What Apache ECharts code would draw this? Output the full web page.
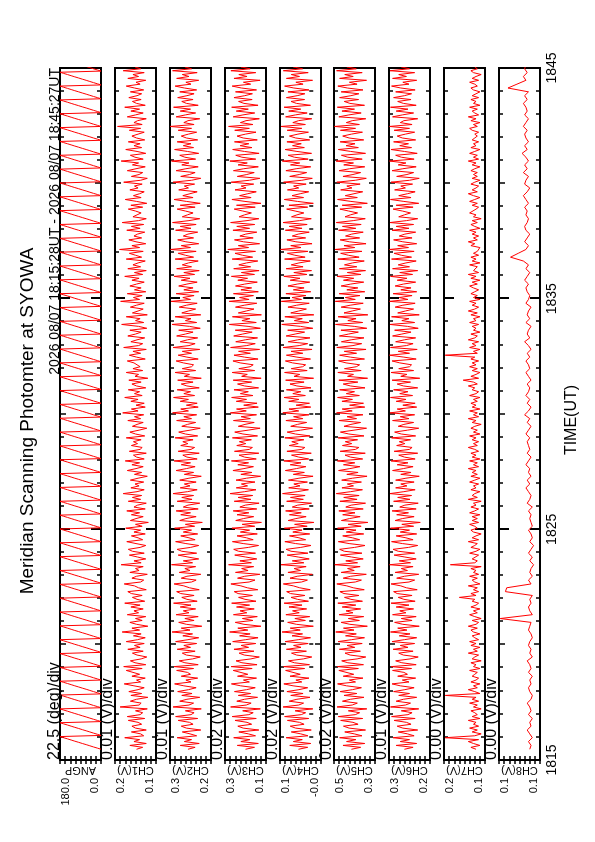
<!DOCTYPE html>
<html><head><meta charset="utf-8">
<script src="https://cdn.jsdelivr.net/npm/echarts@6/dist/echarts.min.js"></script>
<style>
html,body{margin:0;padding:0;width:595px;height:842px;overflow:hidden;background:#fff;}
#chart{position:absolute;left:0;top:0;width:842px;height:595px;transform-origin:0 0;transform:translate(0px,842px) rotate(-90deg);}
</style></head><body><div id="chart"></div>
<script>
const titleText = 'Meridian Scanning Photomter at SYOWA';
const headerText = '2026 08/07 18:15:28UT - 2026 08/07 18:45:27UT';
const panelNames = ['ANGP','CH1(V)','CH2(V)','CH3(V)','CH4(V)','CH5(V)','CH6(V)','CH7(V)','CH8(V)'];
const divLabels = ['22.5 (deg)/div','0.01 (V)/div','0.01 (V)/div','0.02 (V)/div','0.02 (V)/div','0.02 (V)/div','0.01 (V)/div','0.00 (V)/div','0.00 (V)/div'];
const yMin = [0, 0.12, 0.21, 0.13, -0.03, 0.32, 0.21, 0.13, 0.11];
const yMax = [180, 0.20, 0.29, 0.29, 0.13, 0.48, 0.29, 0.162, 0.142];
const timeTickSec = [0, 600, 1200, 1800];
const timeLabels = ['1815', '1825', '1835', '1845'];
const timeAxisName = 'TIME(UT)';
const sampleStartSec = 28;   // 18:15:28
const fastStepSec = 5;       // CH1..CH7
const ch8StepSec = 10;
const angStepSec = 3;

// scan angle (deg), 3 s samples
const angp = [
0,16,33,49,65,82,98,115,131,147,164,180,0,16,33,49,65,82,98,115,131,147,164,180,0,16,33,49,65,82,98,115,131,147,164,180,0,16,33,49,65,82,98,115,131,147,164,180,0,16,33,49,65,82,98,115,131,147,164,180,
0,16,33,49,65,82,98,115,131,147,164,180,0,16,33,49,65,82,98,115,131,147,164,180,0,16,33,49,65,82,98,115,131,147,164,180,0,16,33,49,65,82,98,115,131,147,164,180,0,16,33,49,65,82,98,115,131,147,164,180,
0,16,33,49,65,82,98,115,131,147,164,180,0,16,33,49,65,82,98,115,131,147,164,180,0,16,33,49,65,82,98,115,131,147,164,180,0,16,33,49,65,82,98,115,131,147,164,180,0,16,33,49,65,82,98,115,131,147,164,180,
0,16,33,49,65,82,98,115,131,147,164,180,0,16,33,49,65,82,98,115,131,147,164,180,0,16,33,49,65,82,98,115,131,147,164,180,0,16,33,49,65,82,98,115,131,147,164,180,0,16,33,49,65,82,98,115,131,147,164,180,
0,16,33,49,65,82,98,115,131,147,164,180,0,16,33,49,65,82,98,115,131,147,164,180,0,16,33,49,65,82,98,115,131,147,164,180,0,16,33,49,65,82,98,115,131,147,164,180,0,16,33,49,65,82,98,115,131,147,164,180,
0,16,33,49,65,82,98,115,131,147,164,180,0,16,33,49,65,82,98,115,131,147,164,180,0,16,33,49,65,82,98,115,131,147,164,180,0,16,33,49,65,82,98,115,131,147,164,180,0,16,33,49,65,82,98,115,131,147,164,180,
0,16,33,49,65,82,98,115,131,147,164,180,0,16,33,49,65,82,98,115,131,147,164,180,0,16,33,49,65,82,98,115,131,147,164,180,0,16,33,49,65,82,98,115,131,147,164,180,0,16,33,49,65,82,98,115,131,147,164,180,
0,16,33,49,65,82,98,115,131,147,164,180,0,16,33,49,65,82,98,115,131,147,164,180,0,16,33,49,65,82,98,115,131,147,164,180,0,16,33,49,65,82,98,115,131,147,164,180,0,16,33,49,65,82,98,115,131,147,164,180,
0,16,33,49,65,82,98,115,131,147,164,180,0,16,33,49,65,82,98,115,131,147,164,180,0,16,33,49,65,82,98,115,131,147,164,180,0,16,33,49,65,82,98,115,131,147,164,180,0,16,33,49,65,82,98,115,131,147,164,180,
0,16,33,49,65,82,98,115,131,147,164,180,0,16,33,49,65,82,98,115,131,147,164,180,0,16,33,49,65,82,98,115,131,147,164,180,0,16,33,49,65,82,98,115,131,147,164,180,0,16,33,49,65,82,98,115,131,147,164,180
];

// channel outputs in mV (CH1..CH7: 5 s samples, CH8: 10 s samples)
const ch1_mV = [
158,146,171,139,163,152,181,144,150,168,139,160,167,148,155,174,142,176,151,146,
160,137,190,153,149,170,158,136,169,148,173,155,143,163,182,150,158,141,167,152,
155,178,147,183,140,161,170,149,138,157,166,145,175,151,162,143,178,156,141,164,
149,186,152,167,136,158,171,147,160,140,176,154,163,145,169,151,181,142,157,166,
147,168,175,139,154,162,182,150,144,167,158,137,171,153,160,145,188,149,163,140,
156,172,143,166,174,151,140,159,177,146,155,168,141,163,150,179,147,160,135,170,
159,145,168,152,177,141,163,156,139,174,150,166,148,184,157,143,169,153,161,144,
170,155,137,162,148,176,159,145,167,152,180,143,158,164,139,172,151,147,168,156,
164,149,178,142,160,171,153,138,166,157,145,175,150,162,144,185,155,168,141,159,
143,169,155,181,147,162,152,174,140,158,167,149,173,136,161,154,178,146,165,151,
148,163,176,141,158,172,150,165,139,183,154,146,169,157,142,175,160,149,171,138,
154,187,144,160,151,178,137,166,155,145,170,158,143,189,152,164,147,176,140,162,
149,171,158,143,167,153,181,146,162,139,175,150,165,155,141,178,148,160,172,145,
191,152,167,140,159,173,148,163,156,142,177,151,168,144,186,154,139,165,157,149,
160,174,146,169,138,158,180,149,164,152,143,171,155,162,147,183,150,137,168,153,
146,176,159,141,166,154,188,145,161,170,140,157,179,148,163,151,174,142,158,167,
155,143,172,150,195,147,163,156,139,176,160,145,169,152,181,141,158,166,149,173,
157,148,170,144,162,178,151,159,140,175,154,165,143,184,150,161,146,172,153,160
];
const ch2_mV = [
255,241,270,233,262,248,276,238,251,266,230,258,268,245,252,274,236,279,249,243,
260,229,284,253,244,271,257,232,267,247,275,254,239,263,281,249,259,236,268,250,
256,277,244,282,235,261,272,246,231,258,266,241,276,250,263,238,279,255,234,265,
246,286,251,268,228,258,273,243,261,235,278,253,264,240,270,249,283,237,257,267,
243,269,277,233,252,263,282,248,239,268,257,230,272,251,261,240,287,246,264,234,
255,274,238,267,276,250,234,259,279,241,253,269,236,264,248,281,242,260,227,271,
259,239,269,250,278,235,264,255,232,276,247,267,244,284,256,237,270,251,262,239,
271,253,229,262,244,278,258,241,268,250,282,237,257,265,233,274,249,242,269,255,
265,245,280,236,260,273,251,231,267,256,240,277,248,263,238,285,254,269,235,258,
237,270,254,283,242,263,250,276,233,257,268,245,275,229,262,252,280,240,266,248,
244,264,278,235,257,274,248,266,232,284,253,241,270,256,236,277,260,245,273,231,
252,286,238,260,249,280,230,267,254,240,272,258,237,288,250,265,243,278,234,263,
245,273,257,237,268,251,282,242,263,233,277,248,266,254,235,280,244,260,274,239,
289,250,268,234,259,275,244,264,255,236,279,249,270,239,285,253,232,266,256,245,
260,276,241,270,231,258,282,245,265,251,237,273,254,262,242,284,248,230,269,252,
241,278,259,235,267,253,287,240,261,271,234,256,281,244,264,249,276,236,258,268,
254,238,274,248,290,243,263,255,232,278,260,240,270,250,283,235,258,267,245,275,
257,243,271,238,262,280,249,259,234,277,253,266,237,285,248,261,241,274,251,260
];
const ch3_mV = [
210,175,242,160,228,193,256,171,199,236,158,219,240,186,204,251,168,262,197,180,
221,152,268,207,188,244,214,163,238,190,253,206,172,229,265,195,218,167,241,201,
208,258,184,266,165,224,247,189,156,215,235,177,255,198,227,170,260,209,161,233,
192,272,201,240,150,216,250,181,222,164,257,205,231,176,245,194,264,169,212,237,
183,239,254,162,203,228,267,196,173,241,213,154,249,200,225,178,276,187,232,166,
209,252,171,237,256,199,159,219,261,180,206,243,164,230,194,263,174,223,148,248,
218,178,243,197,258,166,232,211,157,254,189,239,182,270,213,169,246,202,226,173,
247,206,151,228,185,259,216,179,240,198,265,168,214,235,158,253,195,183,244,209,
234,187,261,163,220,252,200,153,238,212,176,257,191,227,167,269,207,245,160,217,
165,246,206,264,181,230,199,255,159,214,241,186,258,149,225,203,262,174,236,192,
180,231,259,161,214,255,191,237,155,268,205,172,248,211,163,256,221,184,250,152,
200,273,168,224,193,261,148,238,207,177,249,215,166,274,196,233,179,257,160,228,
186,249,213,164,240,202,265,175,226,157,256,190,236,206,162,262,182,222,251,171,
279,198,238,155,218,253,180,232,209,166,259,194,244,174,268,204,158,235,214,187,
221,254,172,245,150,212,263,188,233,201,168,251,208,227,178,266,195,154,242,205,
176,257,217,160,239,203,271,170,224,248,157,214,260,185,231,197,253,164,219,243,
210,169,252,195,276,181,230,208,156,258,220,174,246,199,264,161,216,237,184,255,
213,183,249,167,226,262,190,218,153,255,204,236,170,267,192,228,178,250,199,221
];
const ch4_mV = [
58,22,92,10,78,43,106,21,49,86,8,69,90,36,54,101,18,112,47,30,
71,2,118,57,38,94,64,13,88,40,103,56,22,79,115,45,68,17,91,51,
58,108,34,116,15,74,97,39,6,65,85,27,105,48,77,20,110,59,11,83,
42,122,51,90,0,66,100,31,72,14,107,55,81,26,95,44,114,19,62,87,
33,89,104,12,53,78,117,46,23,91,63,4,99,50,75,28,126,37,82,16,
59,102,21,87,106,49,9,69,111,30,56,93,14,80,44,113,24,73,-2,98,
68,28,93,47,108,16,82,61,7,104,39,89,32,120,63,19,96,52,76,23,
97,56,1,78,35,109,66,29,90,48,115,18,57,85,8,103,45,33,94,59,
84,37,111,13,70,102,50,3,88,62,26,107,41,77,17,119,57,95,10,67,
15,96,56,114,31,80,49,105,9,64,91,36,108,-1,75,53,112,24,86,42,
30,81,109,11,64,105,41,87,5,118,55,22,98,61,13,106,71,34,100,2,
50,123,18,74,43,111,-2,88,57,27,99,65,16,125,46,83,29,107,10,78,
36,99,63,14,90,52,115,25,76,7,106,40,86,56,12,112,32,72,101,21,
128,48,88,5,68,103,30,82,59,16,109,44,94,24,118,54,8,85,64,37,
71,104,22,95,0,62,113,38,83,51,18,101,57,77,28,116,45,4,92,55,
26,107,67,10,89,53,121,20,74,98,7,64,110,35,81,47,103,14,69,93,
60,19,102,45,126,31,80,58,6,108,70,24,96,49,114,11,66,87,34,105,
63,33,99,17,76,112,40,68,3,105,54,86,20,117,42,78,28,100,49,71
];
const ch5_mV = [
412,376,445,360,431,395,458,371,401,438,357,421,443,386,406,454,368,463,397,380,
424,352,468,409,389,447,416,363,441,391,456,408,373,431,466,396,420,367,444,403,
410,461,385,467,365,426,450,390,356,417,437,377,459,399,429,370,464,411,361,435,
393,473,402,443,350,418,452,381,424,364,460,406,433,376,448,395,465,369,414,439,
383,441,457,362,405,430,469,397,373,444,415,354,452,401,427,378,477,388,434,366,
411,455,371,440,458,400,359,421,463,380,408,446,364,432,394,466,374,425,348,451,
420,378,446,398,461,366,434,413,357,457,390,442,382,471,415,369,449,404,428,373,
450,408,351,430,386,462,418,379,443,399,467,368,416,437,358,456,396,383,447,411,
436,388,464,363,422,455,402,353,441,414,376,460,392,429,367,470,409,448,360,419,
365,449,408,466,381,432,400,458,359,416,444,387,461,349,427,404,465,374,439,393,
380,433,462,361,416,458,392,440,355,469,406,372,451,413,363,459,423,385,453,352,
401,474,368,426,394,464,348,441,409,377,452,417,366,475,397,436,379,460,360,430,
387,452,415,364,443,403,468,375,428,357,459,391,439,408,362,465,382,424,454,371,
476,399,441,355,420,456,380,435,411,366,462,395,447,374,471,405,358,437,416,388,
423,457,372,448,350,414,466,389,436,402,368,454,410,430,378,469,397,354,445,406,
376,460,419,360,442,404,472,370,426,451,357,415,463,385,433,398,456,364,421,446,
412,369,455,396,478,381,432,409,356,461,422,374,449,400,467,361,418,440,384,458,
414,383,452,367,428,465,390,420,353,458,405,438,370,470,393,430,378,453,400,423
];
const ch6_mV = [
260,243,276,236,268,250,282,241,254,272,234,263,274,247,256,280,239,285,253,245,
266,232,287,258,248,276,262,236,271,250,281,259,241,268,284,251,264,238,273,254,
261,283,246,286,237,265,277,249,233,262,271,243,282,253,268,240,284,260,236,270,
249,287,255,273,231,263,279,245,266,237,283,257,269,242,276,251,286,239,261,272,
245,274,281,235,256,267,286,251,240,275,260,232,278,254,266,243,289,248,270,237,
259,280,240,272,282,252,234,264,285,243,257,276,236,268,250,287,242,265,229,278,
264,241,275,252,284,237,269,259,233,281,249,273,246,288,261,239,277,255,267,241,
277,257,231,267,247,283,262,243,274,253,286,239,260,271,234,280,250,245,275,259,
270,248,285,238,266,279,254,232,272,261,242,283,251,268,240,288,258,274,236,263,
239,276,257,287,244,269,253,281,234,262,274,248,284,230,267,255,286,242,271,250,
246,269,284,237,261,289,250,272,235,287,256,243,277,260,238,283,265,247,279,233,
254,288,240,265,251,285,231,273,258,242,278,263,239,289,253,270,245,282,236,267,
247,278,262,238,274,255,287,244,269,234,283,250,272,257,237,285,246,266,280,241,
289,252,273,236,263,281,245,270,259,238,284,251,276,242,288,256,234,271,260,248,
264,282,243,276,232,261,287,247,271,254,239,279,258,267,244,286,250,231,275,255,
242,284,263,237,272,257,289,241,266,277,235,260,286,246,269,252,281,238,264,274,
258,240,280,250,289,245,268,261,234,283,264,242,276,253,287,237,262,273,247,281,
260,246,277,239,267,285,251,263,236,283,256,271,240,288,250,266,243,279,254,264
];
const ch7_mV = [
137,141,134,139,143,135,161,138,133,140,136,142,135,139,137,143,134,140,136,138,
141,133,139,136,142,135,140,137,161,134,138,143,136,139,134,141,137,135,140,138,
136,142,134,139,137,141,133,140,138,135,143,136,139,134,141,137,142,135,138,140,
134,139,141,136,143,137,135,140,133,138,142,136,139,134,141,137,135,140,138,150,
137,141,135,139,136,143,134,138,140,136,142,135,139,137,141,133,157,138,136,140,
139,135,142,137,134,141,138,136,143,135,140,137,133,139,141,136,138,142,135,140,
136,140,134,142,138,135,141,137,139,133,143,136,140,138,134,141,137,139,135,142,
138,134,141,136,140,137,143,135,139,136,142,134,140,137,141,135,138,143,136,139,
135,140,137,142,134,139,136,141,138,133,140,137,143,135,139,136,142,134,140,137,
141,136,139,134,142,137,135,140,138,143,136,139,147,135,141,137,134,140,136,142,
137,140,135,141,138,161,136,139,134,142,137,140,135,143,138,136,141,134,139,137,
140,135,142,137,139,134,141,136,143,138,135,140,137,142,134,139,136,141,138,135,
139,142,136,140,134,141,137,143,135,139,138,136,142,134,140,137,141,135,139,136,
137,134,141,138,143,136,139,135,140,137,142,134,138,141,136,140,133,139,137,142,
141,137,135,140,136,142,138,134,139,143,136,140,137,135,141,138,134,140,136,139,
136,141,138,134,140,137,143,135,139,136,142,138,134,141,137,139,135,140,138,136,
138,135,140,142,136,139,134,141,137,143,135,138,140,136,142,134,139,137,141,135,
140,137,134,139,141,136,138,142,135,140,137,133,139,141,136,138,134,140,137,139
];
const ch8_mV = [
118,117,119,116,118,120,117,118,116,119,117,118,120,117,116,118,119,117,118,116,
119,117,118,120,116,118,117,119,118,116,117,119,118,117,141,116,118,119,117,118,
116,137,136,117,119,116,118,117,115,118,116,119,117,115,118,116,117,119,116,117,
118,117,119,116,120,118,117,119,121,118,120,117,119,118,121,119,117,120,118,119,
120,118,121,119,117,120,118,122,119,117,120,118,121,119,118,120,117,119,121,118,
119,121,118,120,117,119,122,118,120,119,117,121,118,120,119,117,121,119,118,120,
121,119,122,120,118,121,119,123,133,127,121,119,122,120,118,121,122,120,119,121,
120,122,119,121,123,120,118,122,121,119,123,120,122,119,121,124,120,122,119,121,
122,120,123,121,119,122,120,121,123,120,122,119,135,128,121,123,120,122,121,119
];
const channels_mV = [ch1_mV, ch2_mV, ch3_mV, ch4_mV, ch5_mV, ch6_mV, ch7_mV, ch8_mV];
const channelStepSec = [fastStepSec, fastStepSec, fastStepSec, fastStepSec, fastStepSec, fastStepSec, fastStepSec, ch8StepSec];

// ---------------- layout ----------------
const FONT = 'Liberation Sans';
const panelTops = [60, 115, 170, 225, 280, 334, 389, 444, 499];
const panelH = 41, gridL = 82, gridR = 68;
const RED = '#ff0000';

const grids = [], xAxes = [], yAxes = [], series = [], titles = [];

titles.push({text: titleText, left: 'center', top: 18, padding: 0,
  textStyle: {fontFamily: FONT, fontSize: 19, fontWeight: 'normal', color: '#000'}});
titles.push({text: headerText, right: gridR, top: 48, padding: 0,
  textStyle: {fontFamily: FONT, fontSize: 14, fontWeight: 'normal', color: '#000'}});

function tickAxis(g, pos, iv, len) {
  return {gridIndex: g, type: 'value', min: 0, max: 1800, interval: iv, position: pos,
    axisLine: {show: false}, axisLabel: {show: false}, splitLine: {show: false},
    axisTick: {show: true, inside: true, length: len, lineStyle: {color: '#000', width: 1.5}}};
}

panelNames.forEach((nm, i) => {
  const last = i === panelNames.length - 1;
  grids.push({left: gridL, right: gridR, top: panelTops[i], height: panelH, show: true,
    borderColor: '#000', borderWidth: 2, backgroundColor: '#fff'});
  titles.push({text: divLabels[i], left: gridL, top: i === 0 ? 47 : panelTops[i] - 15, padding: 0,
    textStyle: {fontFamily: FONT, fontSize: 16, fontWeight: 'normal', color: '#000'}});
  const xBase = xAxes.length;
  xAxes.push({gridIndex: i, type: 'value', min: 0, max: 1800, position: 'bottom',
    axisLine: {show: false}, splitLine: {show: false},
    axisTick: {show: true, inside: true, length: 10, customValues: timeTickSec, lineStyle: {color: '#000', width: 2}},
    axisLabel: {show: last, customValues: timeTickSec, margin: 5, fontFamily: FONT, fontSize: 14, color: '#000',
      formatter: v => timeLabels[timeTickSec.indexOf(Math.round(v))] || ''},
    name: last ? timeAxisName : '', nameLocation: 'middle', nameGap: 24, nameMoveOverlap: false,
    nameTextStyle: {fontFamily: FONT, fontSize: 16, color: '#000', padding: [0, 12, 0, 0]}});
  xAxes.push(tickAxis(i, 'bottom', 60, 4));
  xAxes.push(tickAxis(i, 'bottom', 300, 6));
  const topMain = tickAxis(i, 'top', 600, 10); topMain.axisTick.lineStyle.width = 2;
  xAxes.push(topMain);
  xAxes.push(tickAxis(i, 'top', 60, 4));
  xAxes.push(tickAxis(i, 'top', 300, 6));

  const lo = yMin[i], hi = yMax[i];
  const yTicks = [];
  for (let k = 0; k <= 8; k++) yTicks.push(lo + (hi - lo) * k / 8);
  const yBase = yAxes.length;
  const lblStyle = {fontFamily: FONT, fontSize: 11, color: '#000'};
  yAxes.push({gridIndex: i, type: 'value', min: lo, max: hi, position: 'left',
    axisLine: {show: false}, splitLine: {show: false},
    axisTick: {show: true, inside: true, length: 4, customValues: yTicks, lineStyle: {color: '#000', width: 1.5}},
    axisLabel: {customValues: [lo, hi], margin: 18, fontFamily: FONT, fontSize: 11, color: '#000',
      formatter: v => {
        const s = v.toFixed(1);
        return v > (lo + hi) / 2 ? '{t|' + s + '}' : '{b|' + s + '}';
      },
      rich: {t: Object.assign({padding: [12, 0, 0, 0]}, lblStyle), b: Object.assign({padding: [0, 0, 12, 0]}, lblStyle)}},
    name: nm, nameLocation: 'middle', nameRotate: 90, nameGap: 5, nameMoveOverlap: false,
    nameTextStyle: {fontFamily: FONT, fontSize: 11, color: '#000'}});
  yAxes.push({gridIndex: i, type: 'value', min: lo, max: hi, position: 'right',
    axisLine: {show: false}, splitLine: {show: false}, axisLabel: {show: false},
    axisTick: {show: true, inside: true, length: 4, customValues: yTicks, lineStyle: {color: '#000', width: 1.5}}});

  let data;
  if (i === 0) {
    data = angp.map((v, k) => [sampleStartSec + k * angStepSec, v]);
  } else {
    const st = channelStepSec[i - 1];
    data = channels_mV[i - 1].map((v, k) => [sampleStartSec + k * st, v / 1000]);
  }
  series.push({type: 'line', xAxisIndex: xBase, yAxisIndex: yBase, data: data,
    showSymbol: false, symbol: 'none', clip: true, silent: true,
    lineStyle: {color: RED, width: 1}, itemStyle: {color: RED}, z: 3});
});

const chart = echarts.init(document.getElementById('chart'), null, {renderer: 'canvas', width: 842, height: 595});
chart.setOption({animation: false, backgroundColor: '#fff', title: titles, grid: grids,
  xAxis: xAxes, yAxis: yAxes, series: series});
</script></body></html>
